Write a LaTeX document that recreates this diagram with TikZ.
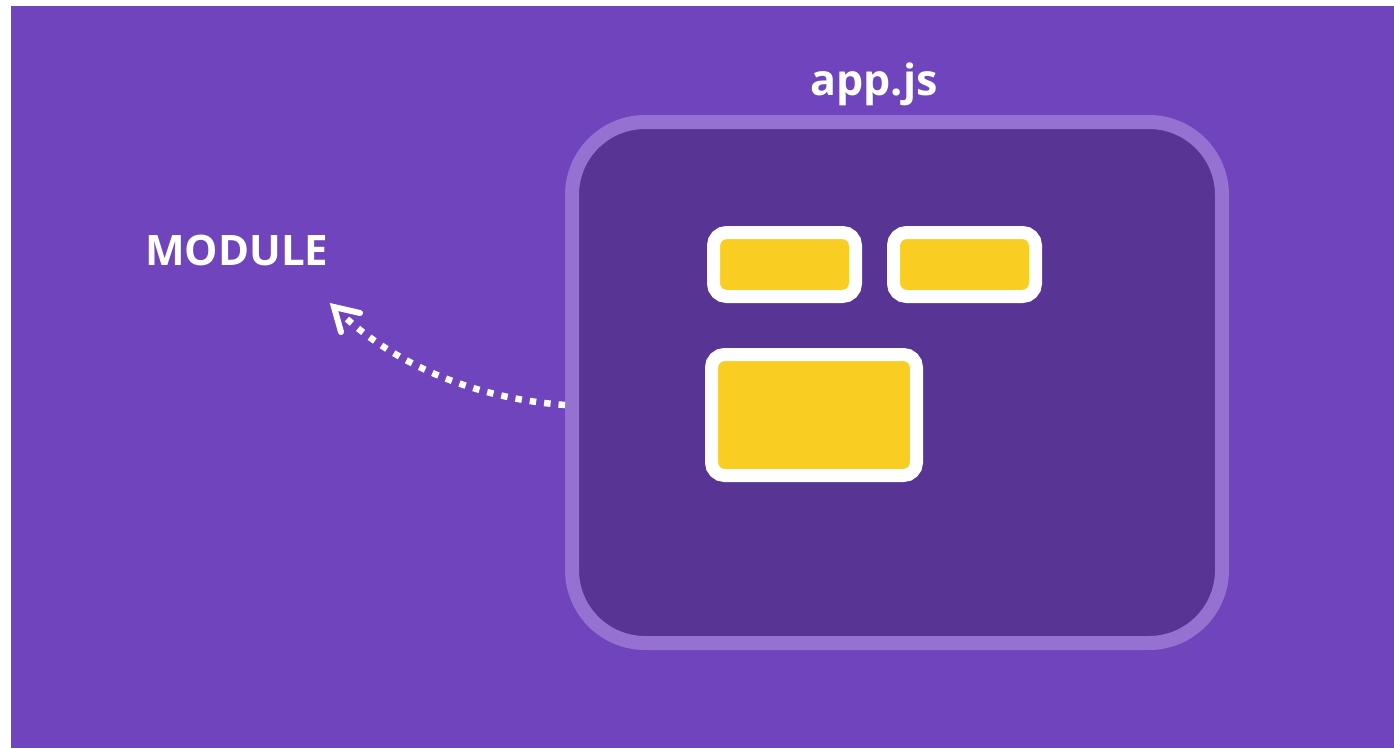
\documentclass[tikz,border=0pt]{standalone}
\usepackage{fontspec}
\setmainfont{Open Sans}
\usetikzlibrary{calc}
\definecolor{bgpurple}{HTML}{6F44BC}
\definecolor{darkfill}{HTML}{583594}
\definecolor{lightborder}{HTML}{9571D1}
\definecolor{boxyellow}{HTML}{F9CD21}
\tikzset{
  appbox/.style={draw=lightborder, line width=14pt, fill=darkfill, rounded corners=73pt, inner sep=0pt},
  block/.style={draw=white, line width=13pt, fill=boxyellow, rounded corners=13pt, inner sep=0pt},
  label/.style={text=white, font=\bfseries, inner sep=0pt},
  dots/.style={draw=white, line width=6.5pt, dash pattern=on 6.5pt off 8pt},
  barb/.style={draw=white, line width=6pt, line cap=round, line join=miter}
}
\begin{document}
\begin{tikzpicture}[x=1pt,y=-1pt]
\useasboundingbox (0,0) rectangle (1394,748);
\fill[white] (0,0) rectangle (1394,748);
\fill[bgpurple] (11,6) rectangle (1394,748);
\node[appbox, minimum width=650pt, minimum height=521pt] (app) at (897,382.5) {};
\node[block, minimum width=142pt, minimum height=64pt] (b1) at (784.5,264.5) {};
\node[block, minimum width=142pt, minimum height=64pt] (b2) at (964.5,264.5) {};
\node[block, minimum width=205pt, minimum height=121pt] (b3) at (814,415) {};
\node[label, anchor=base, font=\bfseries\fontsize{43}{43}\selectfont] (appjs) at (874,95) {app.js};
\node[label, anchor=base west, font=\bfseries\fontsize{42}{42}\selectfont] (module) at (145,265) {MODULE};
\coordinate (arrowstart) at (565,405);
\coordinate (arrowmid) at (347,319);
\coordinate (arrowend) at (334,307);
\draw[dots] (arrowstart) .. controls (470,398) and (395,362) .. (arrowmid);
\draw[barb] ($(arrowend)+(7,25)$) -- (arrowend) -- ($(arrowend)+(26,6)$);
\end{tikzpicture}
\end{document}
